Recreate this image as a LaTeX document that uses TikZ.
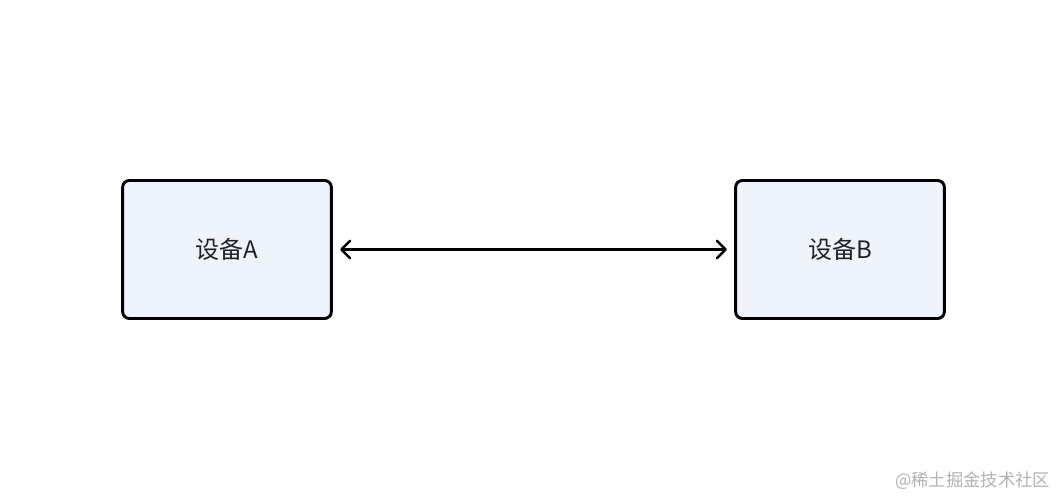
\documentclass[tikz,border=0pt]{standalone}
\usepackage{fontspec}
\newfontfamily\cjk{Noto Sans CJK SC}
\usetikzlibrary{arrows.meta}
\definecolor{boxfill}{RGB}{239,243,252}
\definecolor{textdark}{RGB}{31,35,41}
\definecolor{markgray}{RGB}{178,178,178}
\begin{document}
\begin{tikzpicture}[x=0.75pt,y=-0.75pt,
    devbox/.style={draw=black,fill=boxfill,line width=2.2pt,rounded corners=5pt,
      minimum width=156.5pt,minimum height=103.5pt,text=textdark,font=\cjk\fontsize{18}{21}\selectfont},
    link/.style={line width=1.9pt,{Straight Barb[length=6.5pt,width=13pt,line cap=round,line join=round]}-{Straight Barb[length=6.5pt,width=13pt,line cap=round,line join=round]}}]
      \useasboundingbox (0,0) rectangle (1058,498);

      \node[devbox] (devA) at (227,249.5) {设备A};
      \node[devbox] (devB) at (840,249.5) {设备B};

      \draw[link,shorten <=5.5pt,shorten >=5.5pt] (devA.east) -- (devB.west);

      \node[anchor=east,text=markgray,font=\cjk\fontsize{13}{15}\selectfont] (mark) at (1055,481) {@稀土掘金技术社区};

    \end{tikzpicture}
\end{document}
